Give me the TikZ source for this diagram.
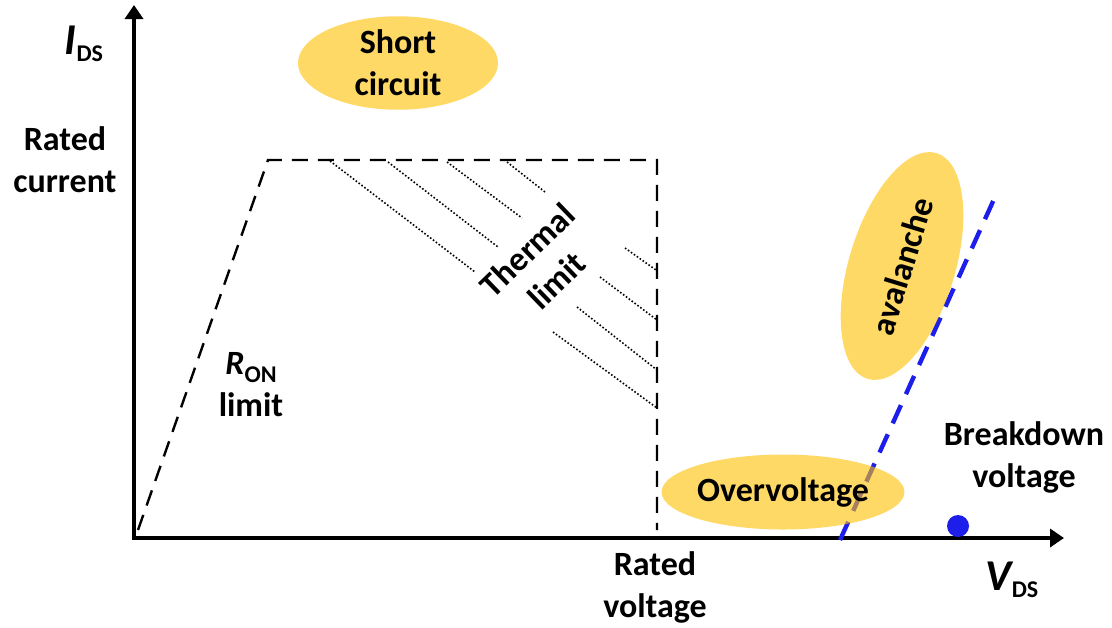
\documentclass[tikz,border=0pt]{standalone}
\usepackage{fontspec}
\setmainfont{Carlito}
\usetikzlibrary{arrows.meta,shapes.geometric}

\definecolor{bubblegold}{RGB}{255,192,0}
\definecolor{lineblue}{RGB}{30,30,235}
\newcommand{\lowsub}[1]{\raisebox{-0.45ex}{\fontsize{12}{12}\selectfont #1}}
\newcommand{\bigsym}[1]{{\fontsize{22}{22}\selectfont\itshape #1}}

\begin{document}
\begin{tikzpicture}[x=0.5pt, y=-0.5pt, font=\fontsize{17}{21}\selectfont\bfseries,
        axis/.style={line width=2pt, {Triangle[length=7pt,width=9pt]}-{Triangle[length=7pt,width=9pt]}},
        limitline/.style={line width=1.2pt, dash pattern=on 8pt off 5pt},
        hatch/.style={line width=0.8pt, densely dotted},
        bubble/.style={ellipse, fill=bubblegold, fill opacity=0.6, text opacity=1, inner sep=0pt, align=center},
        lbl/.style={align=center, inner sep=0pt}]
        \useasboundingbox (0,0) rectangle (1112,627);

        % axes
        \coordinate (O) at (134,538);
        \coordinate (ytip) at (134,5);
        \coordinate (xtip) at (1064,538);
        \draw[axis] (ytip) -- (O) -- (xtip);

        % safe operating envelope
        \coordinate (ron0) at (138,530);
        \coordinate (knee) at (268,160);
        \coordinate (corner) at (657,160);
        \coordinate (vbase) at (657,530);
        \draw[limitline] (ron0) -- (knee) -- (corner) -- (vbase);

        % thermal hatching
        \foreach \xa/\ya/\xb/\yb in {330/161/475/272, 388/162/498/247, 447/162/522/218, 507/162/545/192,
                                     625/248/656/270, 600/277/657/320, 577/307/657/370, 553/332/657/408}
            \draw[hatch] (\xa,\ya) -- (\xb,\yb);

        % breakdown line
        \coordinate (bv0) at (840,540);
        \coordinate (bv1) at (995,197);
        \draw[lineblue, line width=2.2pt, dash pattern=on 10pt off 6pt] (bv0) -- (bv1);
        \node[circle, fill=lineblue, minimum size=11pt, inner sep=0pt] (bdot) at (958,526) {};

        % regions
        \node[bubble, minimum width=100pt, minimum height=42.5pt] (short) at (398,63) {Short\\circuit};
        \node[bubble, minimum width=118pt, minimum height=53pt, rotate=73] (aval) at (902,266) {avalanche};
        \node[bubble, minimum width=113pt, minimum height=37.5pt] (over) at (783,492) {Overvoltage};

        % labels
        \node[lbl] (ids) at (84,44) {\bigsym{I}\lowsub{DS}};
        \node[lbl] (ratedI) at (65,160) {Rated\\current};
        \node[lbl] (ron) at (251,385) {\textit{R}\lowsub{ON}\\limit};
        \node[lbl, rotate=44] (thermal) at (542,265) {Thermal\\limit};
        \node[lbl] (ratedV) at (655,587) {Rated\\voltage};
        \node[lbl] (vds) at (1012,580) {\bigsym{V}\lowsub{DS}};
        \node[lbl] (bdown) at (1024,457) {Breakdown\\voltage};
\end{tikzpicture}
\end{document}
